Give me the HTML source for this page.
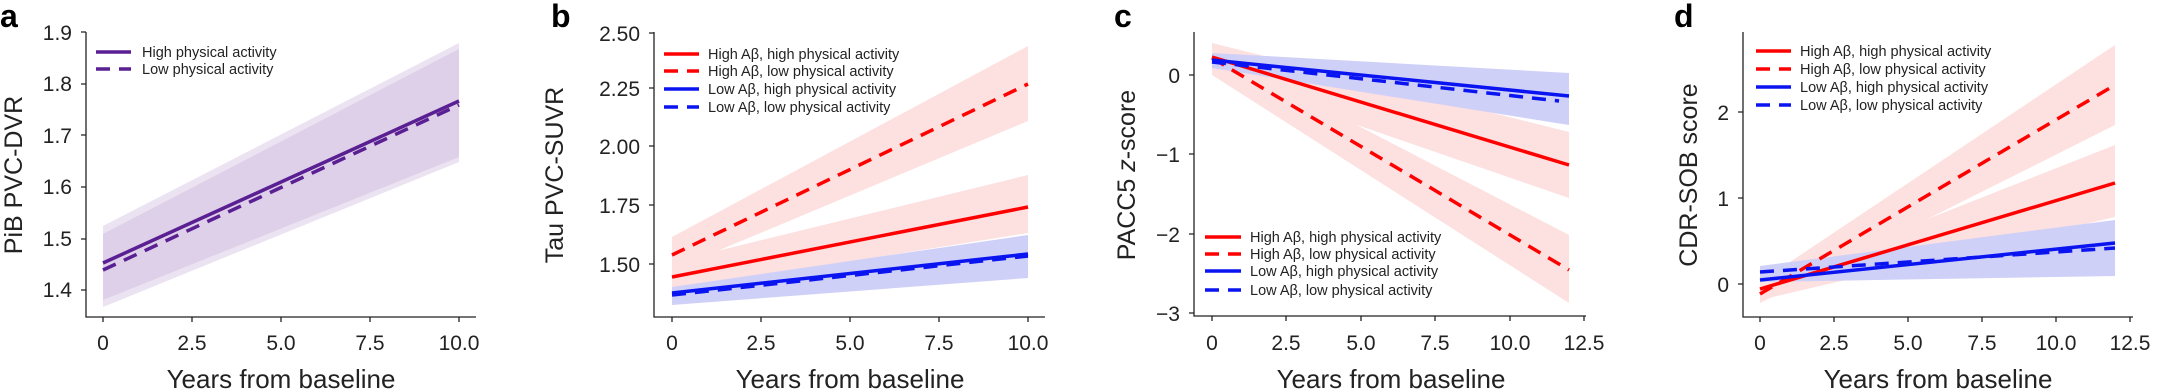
<!DOCTYPE html>
<html><head><meta charset="utf-8"><style>
html,body{margin:0;padding:0;background:#fff;}
svg{display:block;font-family:"Liberation Sans","DejaVu Sans",sans-serif;}
.t{font-size:21px;fill:#222;}
.yl{font-size:25px;fill:#222;}
.xl{font-size:26px;fill:#222;}
.lg{font-size:14.5px;fill:#222;}
.L{font-size:32px;font-weight:bold;fill:#000;}
.s{stroke-width:3.5;}
.d{stroke-width:3.5;stroke-dasharray:14,9;}
</style></head><body>
<svg width="2167" height="392" viewBox="0 0 2167 392" xmlns="http://www.w3.org/2000/svg">
<!-- Panel a -->
<text class="L" x="0" y="27">a</text>
<polygon points="103,226 459,43 459,162 103,307" fill="#ebe2f2"/>
<polygon points="103,234 459,49 459,157 103,300" fill="#ddd0e8"/>
<line class="s" x1="103" y1="263" x2="459" y2="101" stroke="#5a1f93"/>
<line class="d" x1="103" y1="270" x2="459" y2="105" stroke="#5a1f93"/>
<g stroke="#222" stroke-width="1.3" fill="none">
<path d="M86,32 V317 H476"/>
<path d="M81,32H86M81,84H86M81,135H86M81,187H86M81,239H86M81,290H86"/>
<path d="M103,317v5M192,317v5M281,317v5M370,317v5M459,317v5"/>
</g>
<g class="t" text-anchor="end"><text x="72" y="40">1.9</text><text x="72" y="91">1.8</text><text x="72" y="143">1.7</text><text x="72" y="194">1.6</text><text x="72" y="246">1.5</text><text x="72" y="297">1.4</text></g>
<g class="t" text-anchor="middle"><text x="103" y="350">0</text><text x="192" y="350">2.5</text><text x="281" y="350">5.0</text><text x="370" y="350">7.5</text><text x="459" y="350">10.0</text></g>
<text class="xl" x="281" y="388" text-anchor="middle">Years from baseline</text>
<text class="yl" transform="translate(22,175) rotate(-90)" text-anchor="middle">PiB PVC-DVR</text>
<line class="s" x1="96" y1="52" x2="131" y2="52" stroke="#5a1f93"/>
<line class="d" x1="96" y1="69" x2="131" y2="69" stroke="#5a1f93"/>
<text class="lg" x="142" y="57">High physical activity</text>
<text class="lg" x="142" y="74">Low physical activity</text>

<!-- Panel b -->
<text class="L" x="551" y="27">b</text>
<polygon points="672,237 1028,46 1028,121 672,270" fill="#fde0e0"/>
<polygon points="672,262 1028,175 1028,233 672,290" fill="#fde0e0"/>
<polygon points="672,287 1028,235 1028,278 672,305" fill="#cfd0f8"/>
<line class="s" x1="672" y1="277" x2="1028" y2="207" stroke="#f00"/>
<line class="d" x1="672" y1="255" x2="1028" y2="84" stroke="#f00"/>
<line class="s" x1="672" y1="293" x2="1028" y2="254" stroke="#0a14f0"/>
<line class="d" x1="672" y1="295" x2="1028" y2="256" stroke="#0a14f0"/>
<g stroke="#222" stroke-width="1.3" fill="none">
<path d="M654,32 V317 H1045"/>
<path d="M649,33H654M649,88H654M649,146H654M649,205H654M649,264H654"/>
<path d="M672,317v5M761,317v5M850,317v5M939,317v5M1028,317v5"/>
</g>
<g class="t" text-anchor="end"><text x="640" y="41">2.50</text><text x="640" y="96">2.25</text><text x="640" y="154">2.00</text><text x="640" y="213">1.75</text><text x="640" y="272">1.50</text></g>
<g class="t" text-anchor="middle"><text x="672" y="350">0</text><text x="761" y="350">2.5</text><text x="850" y="350">5.0</text><text x="939" y="350">7.5</text><text x="1028" y="350">10.0</text></g>
<text class="xl" x="850" y="388" text-anchor="middle">Years from baseline</text>
<text class="yl" transform="translate(563,175) rotate(-90)" text-anchor="middle">Tau PVC-SUVR</text>
<line class="s" x1="664" y1="54" x2="699" y2="54" stroke="#f00"/>
<line class="d" x1="664" y1="71" x2="699" y2="71" stroke="#f00"/>
<line class="s" x1="664" y1="89" x2="699" y2="89" stroke="#0a14f0"/>
<line class="d" x1="664" y1="107" x2="699" y2="107" stroke="#0a14f0"/>
<text class="lg" x="708" y="59">High Aβ, high physical activity</text>
<text class="lg" x="708" y="76">High Aβ, low physical activity</text>
<text class="lg" x="708" y="94">Low Aβ, high physical activity</text>
<text class="lg" x="708" y="112">Low Aβ, low physical activity</text>

<!-- Panel c -->
<text class="L" x="1114" y="27">c</text>
<polygon points="1212,43 1569,132 1569,198 1212,75" fill="#fde0e0"/>
<polygon points="1212,50 1569,235 1569,303 1212,75" fill="#fde0e0"/>
<polygon points="1212,53 1569,73 1569,125 1212,68" fill="#cfd0f8"/>
<line class="s" x1="1212" y1="57" x2="1569" y2="165" stroke="#f00"/>
<line class="d" x1="1212" y1="58" x2="1569" y2="270" stroke="#f00"/>
<line class="s" x1="1212" y1="60" x2="1569" y2="96" stroke="#0a14f0"/>
<line class="d" x1="1212" y1="62" x2="1559" y2="101" stroke="#0a14f0"/>
<g stroke="#222" stroke-width="1.3" fill="none">
<path d="M1194,32 V316 H1586"/>
<path d="M1189,75H1194M1189,154H1194M1189,234H1194M1189,313H1194"/>
<path d="M1212,316v5M1286,316v5M1361,316v5M1435,316v5M1510,316v5M1584,316v5"/>
</g>
<g class="t" text-anchor="end"><text x="1180" y="83">0</text><text x="1180" y="162">−1</text><text x="1180" y="242">−2</text><text x="1180" y="321">−3</text></g>
<g class="t" text-anchor="middle"><text x="1212" y="350">0</text><text x="1286" y="350">2.5</text><text x="1361" y="350">5.0</text><text x="1435" y="350">7.5</text><text x="1510" y="350">10.0</text><text x="1584" y="350">12.5</text></g>
<text class="xl" x="1391" y="388" text-anchor="middle">Years from baseline</text>
<text class="yl" transform="translate(1135,175) rotate(-90)" text-anchor="middle">PACC5 <tspan font-style="italic">z</tspan>-score</text>
<line class="s" x1="1205" y1="237" x2="1241" y2="237" stroke="#f00"/>
<line class="d" x1="1205" y1="254" x2="1241" y2="254" stroke="#f00"/>
<line class="s" x1="1205" y1="271" x2="1241" y2="271" stroke="#0a14f0"/>
<line class="d" x1="1205" y1="290" x2="1241" y2="290" stroke="#0a14f0"/>
<text class="lg" x="1250" y="242">High Aβ, high physical activity</text>
<text class="lg" x="1250" y="259">High Aβ, low physical activity</text>
<text class="lg" x="1250" y="276">Low Aβ, high physical activity</text>
<text class="lg" x="1250" y="295">Low Aβ, low physical activity</text>

<!-- Panel d -->
<text class="L" x="1674" y="27">d</text>
<polygon points="1760,282 2115,45 2115,125 1760,303" fill="#fde0e0"/>
<polygon points="1760,285 2115,145 2115,217 1760,300" fill="#fde0e0"/>
<polygon points="1760,266 2115,220 2115,276 1760,282" fill="#cfd0f8"/>
<line class="s" x1="1760" y1="289" x2="2115" y2="183" stroke="#f00"/>
<line class="d" x1="1760" y1="294" x2="2115" y2="85" stroke="#f00"/>
<line class="s" x1="1760" y1="280" x2="2115" y2="243" stroke="#0a14f0"/>
<line class="d" x1="1760" y1="272" x2="2115" y2="248" stroke="#0a14f0"/>
<g stroke="#222" stroke-width="1.3" fill="none">
<path d="M1743,32 V317 H2133"/>
<path d="M1738,112H1743M1738,198H1743M1738,284H1743"/>
<path d="M1760,317v5M1834,317v5M1908,317v5M1982,317v5M2056,317v5M2130,317v5"/>
</g>
<g class="t" text-anchor="end"><text x="1729" y="120">2</text><text x="1729" y="206">1</text><text x="1729" y="292">0</text></g>
<g class="t" text-anchor="middle"><text x="1760" y="350">0</text><text x="1834" y="350">2.5</text><text x="1908" y="350">5.0</text><text x="1982" y="350">7.5</text><text x="2056" y="350">10.0</text><text x="2130" y="350">12.5</text></g>
<text class="xl" x="1938" y="388" text-anchor="middle">Years from baseline</text>
<text class="yl" transform="translate(1697,175) rotate(-90)" text-anchor="middle">CDR-SOB score</text>
<line class="s" x1="1756" y1="51" x2="1791" y2="51" stroke="#f00"/>
<line class="d" x1="1756" y1="69" x2="1791" y2="69" stroke="#f00"/>
<line class="s" x1="1756" y1="87" x2="1791" y2="87" stroke="#0a14f0"/>
<line class="d" x1="1756" y1="105" x2="1791" y2="105" stroke="#0a14f0"/>
<text class="lg" x="1800" y="56">High Aβ, high physical activity</text>
<text class="lg" x="1800" y="74">High Aβ, low physical activity</text>
<text class="lg" x="1800" y="92">Low Aβ, high physical activity</text>
<text class="lg" x="1800" y="110">Low Aβ, low physical activity</text>
</svg>
</body></html>
